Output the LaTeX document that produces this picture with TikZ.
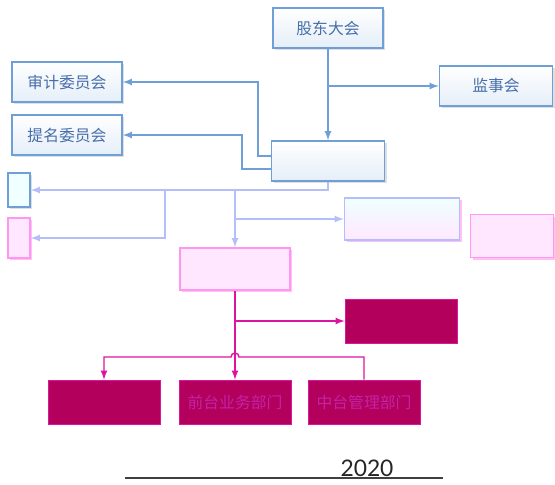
\documentclass[tikz,border=0pt]{standalone}
\usepackage{fontspec}
\newfontfamily\cjk{Noto Sans CJK SC}
\usetikzlibrary{positioning,shadows}

\definecolor{boxblue}{RGB}{110,160,215}
\definecolor{textblue}{RGB}{70,110,170}
\definecolor{paleline}{RGB}{180,190,250}
\definecolor{pinkfill}{RGB}{255,232,255}
\definecolor{pinkedge}{RGB}{255,150,240}
\definecolor{deepmag}{RGB}{178,0,92}
\definecolor{magline}{RGB}{220,20,160}
\definecolor{magtext}{RGB}{195,35,165}

\tikzstyle{board} = [rectangle, minimum width=2.2cm, minimum height=0.8cm, text centered, draw=boxblue, thick, top color=white, bottom color=boxblue!18, text=textblue, font=\cjk\fontsize{9}{11}\selectfont, drop shadow={shadow xshift=1.2pt, shadow yshift=-1.2pt, opacity=0.25}]
\tikzstyle{office} = [rectangle, minimum width=2.2cm, minimum height=0.84cm, draw=pinkedge, thick, fill=pinkfill, drop shadow={shadow xshift=1.2pt, shadow yshift=-1.2pt, fill=pinkedge, opacity=0.6}]
\tikzstyle{dept} = [rectangle, minimum width=2.24cm, minimum height=0.88cm, text centered, draw=magline, fill=deepmag, text=magtext, font=\cjk\fontsize{9}{11}\selectfont]
\tikzstyle{arrow} = [thick,->,>=latex,draw=boxblue]
\tikzstyle{palearrow} = [thick,->,>=latex,draw=paleline]
\tikzstyle{magarrow} = [thick,->,>=latex,draw=magline]

\begin{document}
\begin{tikzpicture}[x=0.02cm,y=-0.02cm]
    \useasboundingbox (0,0) rectangle (555,484);

    \node (meeting) [board] at (328,28) {股东大会};
    \node (audit) [board] at (67,82) {审计委员会};
    \node (nominate) [board] at (67,135) {提名委员会};
    \node (supervise) [board, minimum width=2.26cm] at (496,86) {监事会};
    \node (directors) [board, minimum width=2.26cm] at (328,161) {};

    \node (leftA) [board, minimum width=0.44cm, minimum height=0.68cm, top color=cyan!6, bottom color=cyan!6] at (19,190) {};
    \node (leftB) [office, minimum width=0.44cm, minimum height=0.8cm] at (19,238) {};
    \node (manager) [office] at (235,269) {};
    \node (rightA) [office, minimum width=2.3cm, top color=cyan!6, bottom color=pinkfill, draw=paleline] at (402,219) {};
    \node (rightB) [office, minimum width=1.66cm, minimum height=0.86cm] at (512,236) {};

    \node (riskdept) [dept] at (401,321) {};
    \node (backdept) [dept] at (104,402) {};
    \node (frontdept) [dept] at (235,402) {前台业务部门};
    \node (middept) [dept] at (364,402) {中台管理部门};

    \coordinate (supj) at (328,86);
    \coordinate (auditj) at (258,156);
    \coordinate (nomj) at (242,169);
    \coordinate (mgrj) at (235,189);
    \coordinate (leftj) at (165,189);
    \coordinate (rightj) at (235,219);
    \coordinate (riskj) at (235,321);
    \coordinate (hopR) at (239,357);
    \coordinate (hopL) at (231,357);

    \draw [arrow] (meeting) -- (directors);
    \draw [arrow] (supj) -- (supervise);
    \draw [arrow] (directors.west |- auditj) -- (auditj) |- (audit);
    \draw [arrow] (directors.west |- nomj) -- (nomj) |- (nominate);

    \draw [palearrow] (directors.south) |- (leftA.east);
    \draw [palearrow] (leftj) |- (leftB.east);
    \draw [palearrow] (mgrj) -- (manager);
    \draw [palearrow] (rightj) -- (rightA);

    \draw [magarrow] (manager) -- (frontdept);
    \draw [magarrow] (riskj) -- (riskdept);
    \draw [magarrow] (middept.north) |- (hopR) arc[start angle=0, end angle=180, radius=0.08cm] -- (hopL -| backdept.north) -- (backdept.north);

    \node (year) [font=\fontspec{Lato}\fontsize{13}{15}\selectfont, text=black!85, anchor=base] at (367,476) {2020};
    \coordinate (ruleL) at (125,478);
    \coordinate (ruleR) at (443,478);
    \draw [black!75, thick] (ruleL) -- (ruleR);

    \end{tikzpicture}
\end{document}
